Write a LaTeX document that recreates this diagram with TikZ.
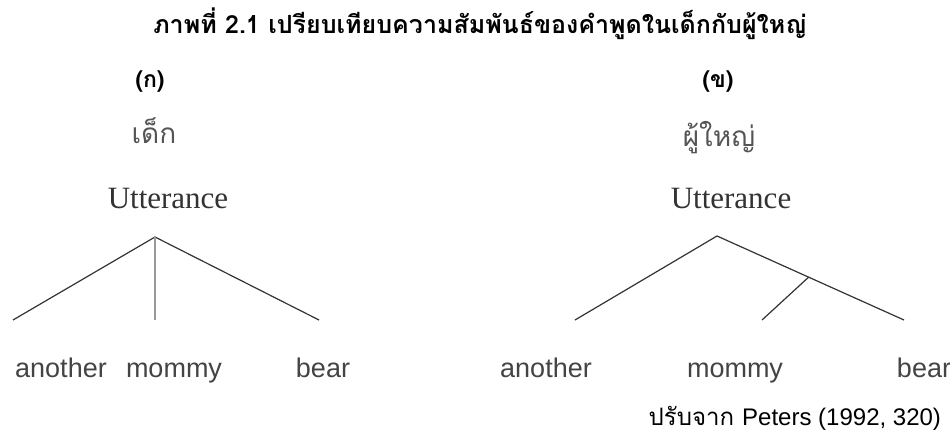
\documentclass[tikz,border=0pt]{standalone}
\usepackage{fontspec}
\setmainfont{Liberation Sans}
\newfontfamily\thaifont[Script=Thai]{Loma}
\newfontfamily\serifen{Liberation Serif}
\usetikzlibrary{calc}
\definecolor{linegray}{HTML}{333333}
\definecolor{midgray}{HTML}{999999}
\definecolor{textgray}{HTML}{444444}
\definecolor{thaigray}{HTML}{555555}
\begin{document}
\begin{tikzpicture}[x=1pt,y=-1pt,
  every node/.style={inner sep=0pt,outer sep=0pt,anchor=base},
  titletext/.style={font=\thaifont\bfseries\fontsize{25}{29}\selectfont,text=black},
  panellabel/.style={font=\thaifont\bfseries\fontsize{23}{27}\selectfont,text=black},
  thailabel/.style={font=\thaifont\fontsize{28}{32}\selectfont,text=thaigray},
  roottext/.style={font=\serifen\fontsize{31}{35}\selectfont,text=linegray},
  leaftext/.style={font=\fontsize{27}{31}\selectfont,text=textgray},
  sourcetext/.style={font=\thaifont\fontsize{24}{28}\selectfont,text=black,anchor=base east},
  branch/.style={draw=linegray,line width=1.2pt},
  midbranch/.style={draw=midgray,line width=1.4pt}]
\useasboundingbox (0,0) rectangle (950,436);
\fill[white] (0,0) rectangle (950,436);
% title
\node[titletext] (title) at (480,34) {ภาพที่ 2.1 เปรียบเทียบความสัมพันธ์ของคำพูดในเด็กกับผู้ใหญ่};
% panel labels
\node[panellabel] (labA) at (150,88) {(ก)};
\node[panellabel] (labB) at (718,88) {(ข)};
\node[thailabel] (child) at (154,143) {เด็ก};
\node[thailabel] (adult) at (719,146) {ผู้ใหญ่};
\node[roottext] (uttA) at (168,208) {Utterance};
\node[roottext] (uttB) at (731,208) {Utterance};
% left tree
\coordinate (A1) at (155,237);
\coordinate (L1) at (13,320);
\coordinate (M1) at (155,320);
\coordinate (R1) at (319,320);
\draw[branch] (L1) -- (A1) -- (R1);
\draw[midbranch] (A1) -- (M1);
% right tree
\coordinate (A2) at (717,236);
\coordinate (L2) at (575,320);
\coordinate (R2) at (904,320);
\coordinate (B2) at ($(A2)!0.49!(R2)$);
\coordinate (M2) at (762,320);
\draw[branch] (L2) -- (A2) -- (R2);
\draw[branch] (B2) -- (M2);
% leaves
\node[leaftext] (anA) at (61,377) {another};
\node[leaftext] (moA) at (174,377) {mommy};
\node[leaftext] (beA) at (323,377) {bear};
\node[leaftext] (anB) at (546,377) {another};
\node[leaftext] (moB) at (735,377) {mommy};
\node[leaftext] (beB) at (924,377) {bear};
% source
\node[sourcetext] (src) at (941,425) {ปรับจาก {\fontspec{Liberation Sans}Peters (1992, 320)}};
\end{tikzpicture}
\end{document}
